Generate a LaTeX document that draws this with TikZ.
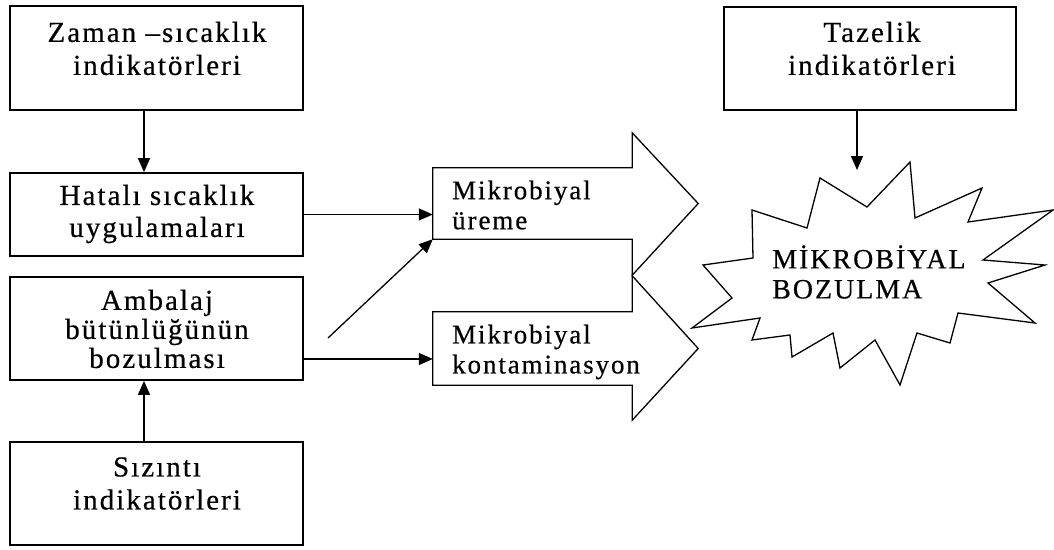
\documentclass[tikz,border=0pt]{standalone}
\usepackage{fontspec}
\setmainfont{Liberation Serif}[LetterSpace=7,FakeBold=0.5]
\usetikzlibrary{arrows.meta}
\begin{document}
\begin{tikzpicture}[x=1pt,y=-1pt,
  box/.style={draw=black, line width=1.7pt, inner sep=0pt, fill=white},
  lbl/.style={align=center, inner sep=0pt, font=\fontsize{29}{33}\selectfont},
  lblL/.style={align=left, inner sep=0pt, font=\fontsize{27}{30}\selectfont},
  conn/.style={line width=1.3pt, -{Triangle[length=14pt,width=12pt]}},
  shaft/.style={inner sep=0pt, minimum width=199pt},
  arrowshape/.style={draw=black, line width=1.3pt, fill=white, line join=miter},
  burst/.style={draw=black, line width=1.3pt, fill=white, line join=miter}]
\useasboundingbox (0,0) rectangle (1054,549);

% left column boxes
\node[box, minimum width=293pt, minimum height=104pt] (zaman) at (156.5,58) {};
\node[lbl] (zamant) at (157,48.5) {Zaman –sıcaklık\\indikatörleri};

\node[box, minimum width=293pt, minimum height=83pt] (hatali) at (156.5,214.5) {};
\node[lbl, font=\fontsize{29}{32}\selectfont] (hatalit) at (157,214) {Hatalı sıcaklık\\uygulamaları};

\node[box, minimum width=293pt, minimum height=103pt] (ambalaj) at (156.5,328.5) {};
\node[lbl, font=\fontsize{29}{29}\selectfont] (ambalajt) at (157,329) {Ambalaj\\bütünlüğünün\\bozulması};

\node[box, minimum width=293pt, minimum height=103pt] (sizinti) at (156.5,493.5) {};
\node[lbl] (sizintit) at (157,483.5) {Sızıntı\\indikatörleri};

% right top box
\node[box, minimum width=292pt, minimum height=103pt] (tazelik) at (870,58.5) {};
\node[lbl] (tazelikt) at (872,48.5) {Tazelik\\indikatörleri};

% big arrows
\node[shaft, minimum height=73pt] (kontam) at (532.5,348.5) {};
\draw[arrowshape] (kontam.south west) -- (kontam.north west) -- (kontam.north east)
  -- ([yshift=36pt]kontam.north east) -- ([xshift=66pt]kontam.east)
  -- ([yshift=-35pt]kontam.south east) -- (kontam.south east) -- cycle;

\node[shaft, minimum height=71pt] (ureme) at (532.5,203.5) {};
\draw[arrowshape] (ureme.south west) -- (ureme.north west) -- (ureme.north east)
  -- ([yshift=35pt]ureme.north east) -- ([xshift=66pt]ureme.east)
  -- ([yshift=-36pt]ureme.south east) -- (ureme.south east) -- cycle;

\node[lblL, anchor=west] (uremet) at (452,205) {Mikrobiyal\\üreme};
\node[lblL, anchor=west] (kontamt) at (452,352) {Mikrobiyal\\kontaminasyon};

% starburst
\draw[burst] (910,162) -- (915,218) -- (982,188) -- (968,222) -- (1053,210)
  -- (983,260) -- (1045,265) -- (988,283) -- (1035,323) -- (958,313)
  -- (950,343) -- (917,333) -- (900,385) -- (875,340) -- (840,368)
  -- (833,333) -- (792,357) -- (790,335) -- (752,340) -- (760,318)
  -- (692,328) -- (732,298) -- (703,265) -- (753,258) -- (752,210)
  -- (807,228) -- (820,178) -- (867,207) -- cycle;
\node[lblL, anchor=west, font=\fontsize{28}{30}\selectfont] (bozulma) at (772,272) {MİKROBİYAL\\BOZULMA};

% connectors
\coordinate (tzend) at (857,170);
\coordinate (diagstart) at (328,338);
\draw[conn] ([xshift=-12.5pt]zaman.south) -- ([xshift=-12.5pt]hatali.north);
\draw[conn] ([xshift=-12.5pt]sizinti.north) -- ([xshift=-12.5pt]ambalaj.south);
\draw[conn] (hatali.east) -- (hatali.east -| ureme.west);
\draw[conn] (diagstart) -- (ureme.south west);
\draw[conn] ([yshift=-30.5pt]ambalaj.east) -- ([yshift=-30.5pt]ambalaj.east -| kontam.west);
\draw[conn] ([xshift=-13pt]tazelik.south) -- (tzend);
\end{tikzpicture}
\end{document}
